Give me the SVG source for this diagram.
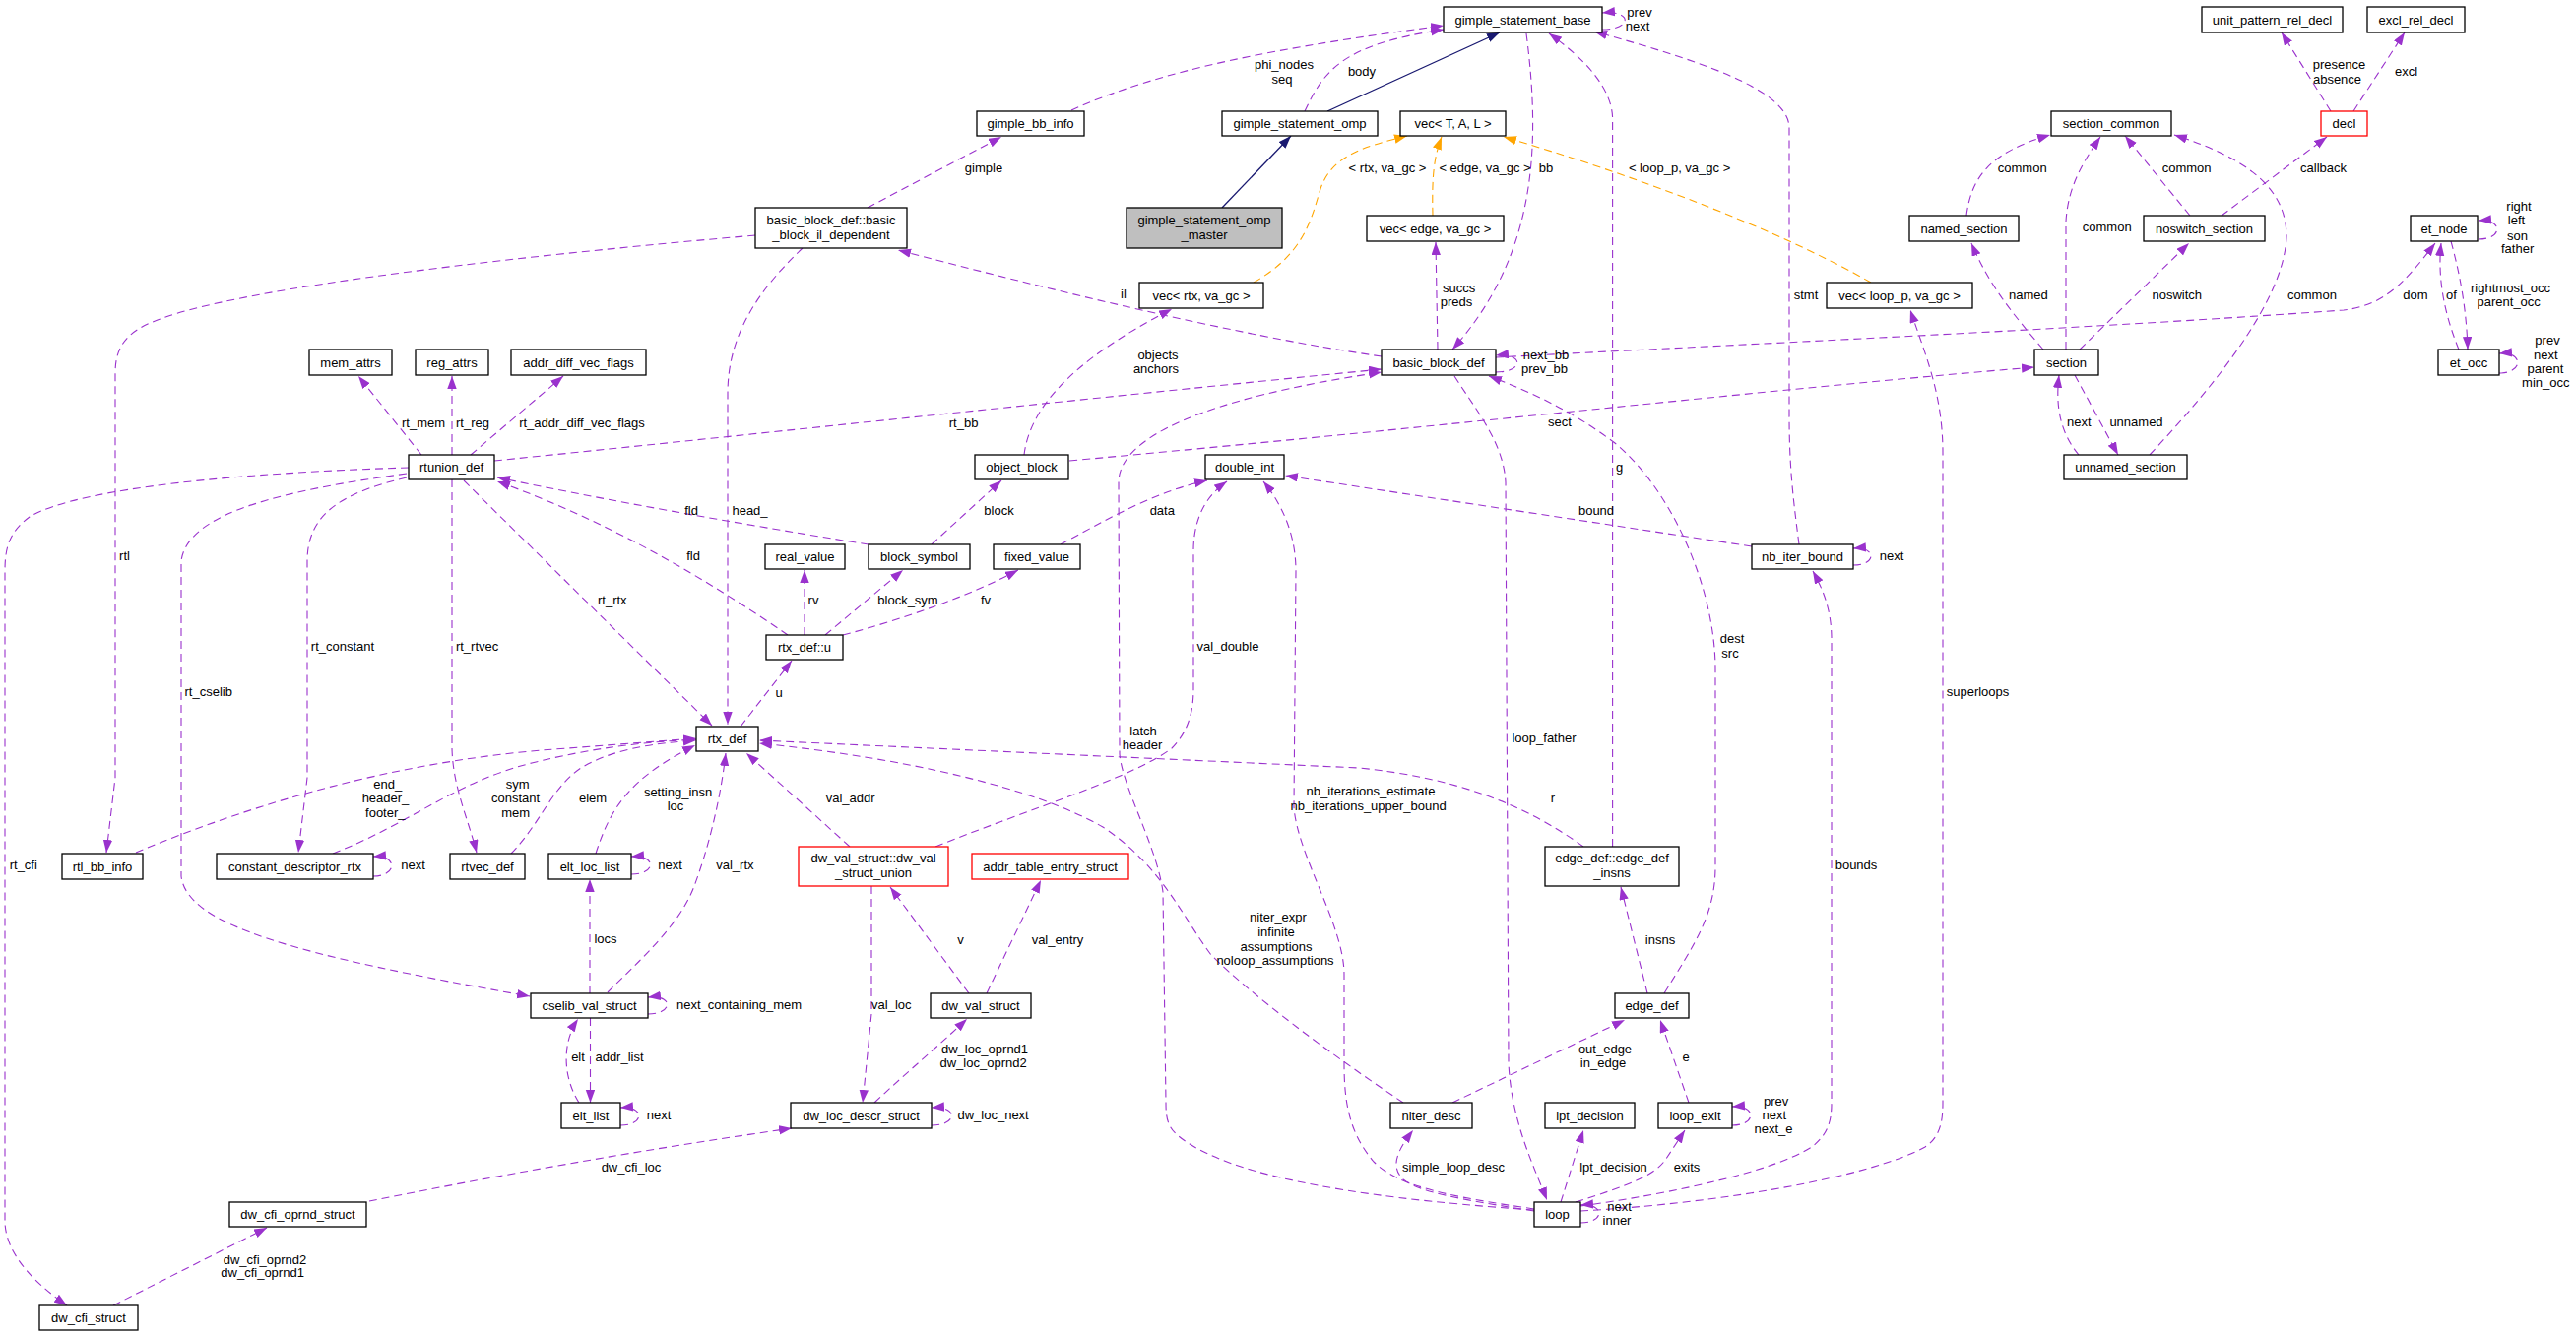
<svg xmlns="http://www.w3.org/2000/svg" width="2616" height="1357" viewBox="0 0 2616 1357">
<style>
text{font-family:"Liberation Sans",Arial,sans-serif;font-size:13px;fill:#000;text-anchor:middle}
.n rect{fill:#fff;stroke:#000;stroke-width:1.3}
.n.red rect{stroke:#ff0000}
.n.main rect{fill:#bfbfbf}
.e{fill:none;stroke:#9a32cd;stroke-width:1.1;stroke-dasharray:8,5}
.o{fill:none;stroke:#ffa500;stroke-width:1.1;stroke-dasharray:8,5}
.i{fill:none;stroke:#191970;stroke-width:1.3}
.e{marker-end:url(#mp)}
.o{marker-end:url(#mo)}
.i{marker-end:url(#mi)}
</style>
<defs>
<marker id="mp" markerUnits="userSpaceOnUse" markerWidth="14" markerHeight="10" refX="13" refY="4.7" orient="auto"><path d="M0,0 L13,4.7 L0,9.4 Z" fill="#9a32cd" stroke="none"/></marker>
<marker id="mo" markerUnits="userSpaceOnUse" markerWidth="14" markerHeight="10" refX="13" refY="4.7" orient="auto"><path d="M0,0 L13,4.7 L0,9.4 Z" fill="#ffa500" stroke="none"/></marker>
<marker id="mi" markerUnits="userSpaceOnUse" markerWidth="14" markerHeight="10" refX="13" refY="4.7" orient="auto"><path d="M0,0 L13,4.7 L0,9.4 Z" fill="#191970" stroke="none"/></marker>
</defs>
<rect x="0" y="0" width="2616" height="1357" fill="#fff"/>
<g id="connectors">
<path class="i" d="M1241,211 L1311,138"/>
<path class="i" d="M1348,113 L1523,33"/>
<path class="e" d="M1325,113 C1345,70 1365,45 1466,30"/>
<path class="e" d="M1088,112 C1180,70 1300,48 1466,26"/>
<path class="e" d="M1627,30 C1658,30 1658,10 1627,13"/>
<path class="e" d="M1550,34 C1565,150 1560,260 1475,355"/>
<path class="e" d="M1637.6,860 L1637.6,120 C1637,90 1610,60 1573,34"/>
<path class="e" d="M1827,553 C1820,500 1817,470 1817,420 L1817,130 C1817,90 1720,60 1619,32"/>
<path class="o" d="M1273,287 C1320,260 1330,230 1340,195 C1350,160 1380,150 1429,138"/>
<path class="o" d="M1455,219 C1454,180 1456,160 1464,139"/>
<path class="o" d="M1900,287 C1800,230 1650,175 1527,139"/>
<path class="e" d="M1460,355 L1458,246"/>
<path class="e" d="M1519,378 C1548,378 1548,358 1519,361"/>
<path class="e" d="M1403,362 C1250,340 1050,290 912,254"/>
<path class="e" d="M502,468 C700,448 1100,405 1403,375"/>
<path class="e" d="M1558,1229 C1350,1215 1250,1190 1205,1160 C1187,1148 1184,1140 1184,1120 L1181,906 C1175,860 1140,800 1137,766 L1136,490 C1136,445 1220,405 1403,378"/>
<path class="e" d="M1477,382 C1500,418 1527,450 1529,490 L1532,1080 C1535,1140 1558,1185 1571,1219"/>
<path class="e" d="M1040,462 C1045,420 1080,370 1190,314"/>
<path class="e" d="M1086,468 C1500,430 1800,395 2066,373"/>
<path class="e" d="M946,553 L1017,488"/>
<path class="e" d="M882,553 C800,540 650,515 505,485"/>
<path class="e" d="M800,645 C720,590 620,530 505,489"/>
<path class="e" d="M428,462 L364,382"/>
<path class="e" d="M459,462 L459,382"/>
<path class="e" d="M478,462 L572,382"/>
<path class="e" d="M415,475 C250,480 80,495 30,525 C10,540 5,555 5,580 L5,1240 C5,1270 30,1300 68,1326"/>
<path class="e" d="M413,481 C290,498 190,520 184,570 L184,890 C190,940 300,970 538,1012"/>
<path class="e" d="M413,485 C350,500 312,520 312,570 L312,790 L303,866"/>
<path class="e" d="M459,487 L459,760 C460,800 475,830 484,866"/>
<path class="e" d="M471,488 L723,737"/>
<path class="e" d="M752,738 L804,671"/>
<path class="e" d="M817,645 L817,579"/>
<path class="e" d="M838,645 L917,579"/>
<path class="e" d="M856,645 C920,628 985,605 1034,579"/>
<path class="e" d="M1077,553 C1120,530 1170,500 1226,488"/>
<path class="e" d="M1779,555 L1305,483"/>
<path class="e" d="M1558,1228 C1470,1215 1420,1205 1395,1180 C1370,1150 1365,1120 1365,1080 L1365,990 C1365,940 1318,870 1314,820 L1316,580 C1316,540 1300,510 1283,489"/>
<path class="e" d="M950,860 C1050,820 1150,790 1190,760 C1208,742 1212,720 1212,700 L1212,560 C1212,520 1230,500 1246,489"/>
<path class="e" d="M863,860 L758,765"/>
<path class="e" d="M885,900 L885,1030 L876,1120"/>
<path class="e" d="M984,1009 L904,901"/>
<path class="e" d="M1002,1009 L1057,894"/>
<path class="e" d="M888,1120 C920,1090 950,1065 982,1035"/>
<path class="e" d="M946,1143 C973,1143 973,1123 946,1125"/>
<path class="e" d="M375,1220 C500,1195 650,1168 804,1146"/>
<path class="e" d="M115,1326 L271,1247"/>
<path class="e" d="M599,1009 L599,893"/>
<path class="e" d="M599.5,1034 L599.5,1120"/>
<path class="e" d="M588,1120 C572,1095 570,1060 587,1035"/>
<path class="e" d="M630,1143 C655,1143 655,1123 630,1125"/>
<path class="e" d="M658,1030 C684,1030 684,1010 658,1013"/>
<path class="e" d="M617,1008 C650,975 690,940 705,900 C720,860 732,810 737,765"/>
<path class="e" d="M605,867 C620,820 640,790 706,757"/>
<path class="e" d="M641,888 C667,888 667,868 641,870"/>
<path class="e" d="M519,867 C550,835 560,800 590,780 C620,762 660,755 707,752"/>
<path class="e" d="M338,867 C420,835 460,795 540,775 C600,760 650,754 707,751"/>
<path class="e" d="M138,866 C260,815 400,775 550,762 L707,750"/>
<path class="e" d="M379,890 C404,890 404,868 379,870"/>
<path class="e" d="M1608,860 C1550,818 1480,790 1380,780 L771,752"/>
<path class="e" d="M1425,1120 C1350,1070 1270,1010 1230,970 C1200,930 1180,880 1120,840 C1050,800 920,770 771,755"/>
<path class="e" d="M1673,1009 L1646,901"/>
<path class="e" d="M1690,1009 C1720,960 1742,930 1742,880 L1742,680 C1742,600 1700,500 1640,450 C1600,420 1560,400 1512,382"/>
<path class="e" d="M1475,1120 L1650,1036"/>
<path class="e" d="M1715,1120 L1686,1036"/>
<path class="e" d="M1759,1143 C1784,1143 1784,1122 1759,1124"/>
<path class="e" d="M1600,1221 C1650,1205 1680,1195 1692,1177 L1711,1148"/>
<path class="e" d="M1585,1221 L1608,1148"/>
<path class="e" d="M1558,1230 C1480,1218 1440,1210 1425,1198 C1412,1185 1418,1170 1435,1148"/>
<path class="e" d="M1605,1242 C1630,1242 1630,1222 1605,1224"/>
<path class="e" d="M1605,1225 C1700,1212 1800,1190 1840,1165 C1856,1152 1860,1140 1860,1120 L1860,650 C1860,620 1852,600 1841,580"/>
<path class="e" d="M1605,1230 C1750,1222 1900,1195 1955,1165 C1970,1155 1973,1140 1973,1120 L1973,460 C1973,400 1955,360 1940,315"/>
<path class="e" d="M1882,574 C1906,574 1906,555 1882,557"/>
<path class="e" d="M2517,243 C2542,243 2542,222 2517,224"/>
<path class="e" d="M2538,379 C2563,379 2563,357 2538,359"/>
<path class="e" d="M1519,363 C1800,348 2100,335 2380,315 C2420,310 2440,290 2473,247"/>
<path class="e" d="M2489,245 C2500,285 2505,320 2506,355"/>
<path class="e" d="M2497,355 C2483,320 2475,285 2479,247"/>
<path class="e" d="M2075,355 C2045,320 2020,290 2002,247"/>
<path class="e" d="M2098,355 L2098,225 C2100,190 2115,165 2133,139"/>
<path class="e" d="M2112,355 L2223,247"/>
<path class="e" d="M2107,381 L2151,462"/>
<path class="e" d="M2111,462 C2093,440 2087,415 2091,381"/>
<path class="e" d="M2183,462 C2260,380 2320,300 2322,240 C2322,190 2280,160 2208,137"/>
<path class="e" d="M1997,219 C2002,180 2020,155 2082,137"/>
<path class="e" d="M2224,219 C2200,190 2180,165 2158,138"/>
<path class="e" d="M2256,219 L2363,139"/>
<path class="e" d="M2367,113 L2317,33"/>
<path class="e" d="M2390,113 L2442,33"/>
<path class="e" d="M767,239 C550,258 250,290 160,325 C125,338 117,355 117,380 L117,790 L108,866"/>
<path class="e" d="M815,252 C770,295 739,340 739,400 L739,736"/>
<path class="e" d="M881,211 L1017,139"/>
<g id="edge-labels">
<text x="1304" y="69.5">phi_nodes</text><text x="1302" y="84.5">seq</text>
<text x="1383" y="77">body</text>
<text x="1665" y="16.5">prev</text><text x="1663" y="31">next</text>
<text x="999" y="174.5">gimple</text>
<text x="1409" y="174.5">&lt; rtx, va_gc &gt;</text>
<text x="1508" y="174.5">&lt; edge, va_gc &gt;</text>
<text x="1570" y="174.5">bb</text>
<text x="1705.6" y="174.5">&lt; loop_p, va_gc &gt;</text>
<text x="2375.5" y="69.5">presence</text><text x="2373.5" y="84.5">absence</text>
<text x="2443.5" y="77">excl</text>
<text x="2053.7" y="174.5">common</text>
<text x="2220.6" y="174.5">common</text>
<text x="2359.6" y="174.5">callback</text>
<text x="2139.7" y="235">common</text>
<text x="2558" y="213.5">right</text><text x="2555.5" y="228">left</text><text x="2556.6" y="243.5">son</text><text x="2556.6" y="257">father</text>
<text x="1141" y="303">il</text>
<text x="1481.6" y="296.5">succs</text><text x="1479" y="311">preds</text>
<text x="1834" y="303.5">stmt</text>
<text x="2059.8" y="303.5">named</text>
<text x="2210.8" y="303.5">noswitch</text>
<text x="2348" y="303.5">common</text>
<text x="2453" y="303.5">dom</text>
<text x="2489.4" y="303.5">of</text>
<text x="2549.5" y="296.5">rightmost_occ</text><text x="2547.7" y="311">parent_occ</text>
<text x="1176" y="364.5">objects</text><text x="1174" y="379">anchors</text>
<text x="1570" y="364.5">next_bb</text><text x="1568.5" y="379">prev_bb</text>
<text x="2587" y="350">prev</text><text x="2585.3" y="364.5">next</text><text x="2585" y="379">parent</text><text x="2585.3" y="393">min_occ</text>
<text x="430" y="433.5">rt_mem</text>
<text x="480" y="433.5">rt_reg</text>
<text x="591" y="433.5">rt_addr_diff_vec_flags</text>
<text x="978.6" y="433.5">rt_bb</text>
<text x="1584" y="433">sect</text>
<text x="2111.4" y="433">next</text>
<text x="2169.5" y="433">unnamed</text>
<text x="1644.5" y="479">g</text>
<text x="702" y="523">fld</text>
<text x="761.5" y="523">head_</text>
<text x="1014.5" y="523">block</text>
<text x="1180.3" y="523">data</text>
<text x="1621" y="523">bound</text>
<text x="704" y="569">fld</text>
<text x="126.5" y="569">rtl</text>
<text x="1921" y="569">next</text>
<text x="826" y="614">rv</text>
<text x="922" y="614">block_sym</text>
<text x="1001" y="614">fv</text>
<text x="621.8" y="614">rt_rtx</text>
<text x="1759" y="653">dest</text><text x="1757" y="668">src</text>
<text x="348" y="661">rt_constant</text>
<text x="484.6" y="661">rt_rtvec</text>
<text x="1247" y="661">val_double</text>
<text x="211.7" y="707">rt_cselib</text>
<text x="791" y="707.5">u</text>
<text x="2008.5" y="707">superloops</text>
<text x="1161" y="747">latch</text><text x="1160" y="761">header</text>
<text x="1568" y="754">loop_father</text>
<text x="393.8" y="801">end_</text><text x="391.5" y="815">header_</text><text x="391.3" y="830">footer_</text>
<text x="525.7" y="801">sym</text><text x="523.6" y="815">constant</text><text x="523.6" y="830">mem</text>
<text x="602" y="815">elem</text>
<text x="688.6" y="808.5">setting_insn</text><text x="686" y="823">loc</text>
<text x="863.6" y="815">val_addr</text>
<text x="1392" y="808">nb_iterations_estimate</text><text x="1389.6" y="823">nb_iterations_upper_bound</text>
<text x="1577" y="815">r</text>
<text x="23.8" y="883">rt_cfi</text>
<text x="419.6" y="883">next</text>
<text x="680.5" y="883">next</text>
<text x="746.4" y="883">val_rtx</text>
<text x="1885" y="883">bounds</text>
<text x="1298" y="936">niter_expr</text><text x="1296" y="951">infinite</text><text x="1296" y="965.5">assumptions</text><text x="1295" y="980">noloop_assumptions</text>
<text x="615" y="958">locs</text>
<text x="975.4" y="958.5">v</text>
<text x="1074" y="958.5">val_entry</text>
<text x="1686" y="958.5">insns</text>
<text x="750.6" y="1025">next_containing_mem</text>
<text x="905.3" y="1025">val_loc</text>
<text x="1000" y="1069.5">dw_loc_oprnd1</text><text x="998.6" y="1084">dw_loc_oprnd2</text>
<text x="1630" y="1069.5">out_edge</text><text x="1628" y="1084">in_edge</text>
<text x="587" y="1077.5">elt</text>
<text x="629" y="1077.5">addr_list</text>
<text x="1712" y="1077.5">e</text>
<text x="1803.6" y="1122.5">prev</text><text x="1801.8" y="1137">next</text><text x="1801" y="1151">next_e</text>
<text x="669" y="1137">next</text>
<text x="1008.6" y="1137">dw_loc_next</text>
<text x="641" y="1190">dw_cfi_loc</text>
<text x="1476" y="1190">simple_loop_desc</text>
<text x="1638.5" y="1190">lpt_decision</text>
<text x="1713" y="1190">exits</text>
<text x="1644.5" y="1229.5">next</text><text x="1642" y="1244">inner</text>
<text x="269" y="1283.5">dw_cfi_oprnd2</text><text x="266.6" y="1297">dw_cfi_oprnd1</text>
</g>
</g>
<g id="gimple_statement_base" class="n"><rect x="1466" y="7" width="161" height="26"/><text x="1546.5" y="24.5">gimple_statement_base</text></g>
<g id="gimple_bb_info" class="n"><rect x="992" y="113" width="109" height="25"/><text x="1046.5" y="130">gimple_bb_info</text></g>
<g id="gimple_statement_omp" class="n"><rect x="1241" y="113" width="158" height="25"/><text x="1320" y="130">gimple_statement_omp</text></g>
<g id="vec_T_A_L" class="n"><rect x="1422" y="113" width="107" height="25"/><text x="1475.5" y="130">vec&lt; T, A, L &gt;</text></g>
<g id="unit_pattern_rel_decl" class="n"><rect x="2236" y="7" width="143" height="26"/><text x="2307.5" y="24.5">unit_pattern_rel_decl</text></g>
<g id="excl_rel_decl" class="n"><rect x="2404" y="7" width="99" height="26"/><text x="2453.5" y="24.5">excl_rel_decl</text></g>
<g id="section_common" class="n"><rect x="2083" y="113" width="122" height="25"/><text x="2144" y="130">section_common</text></g>
<g id="decl" class="n red"><rect x="2357" y="113" width="47" height="25"/><text x="2380.5" y="130">decl</text></g>
<g id="basic_block_il_dependent" class="n"><rect x="767" y="211" width="154" height="41"/><text x="844" y="227.8">basic_block_def::basic</text><text x="844" y="243.2">_block_il_dependent</text></g>
<g id="gimple_statement_omp_master" class="n main"><rect x="1144" y="211" width="158" height="41"/><text x="1223" y="227.8">gimple_statement_omp</text><text x="1223" y="243.2">_master</text></g>
<g id="vec_rtx" class="n"><rect x="1157" y="287" width="126" height="26"/><text x="1220" y="304.5">vec&lt; rtx, va_gc &gt;</text></g>
<g id="vec_edge" class="n"><rect x="1388" y="219" width="139" height="26"/><text x="1457.5" y="236.5">vec&lt; edge, va_gc &gt;</text></g>
<g id="named_section" class="n"><rect x="1939" y="219" width="111" height="26"/><text x="1994.5" y="236.5">named_section</text></g>
<g id="noswitch_section" class="n"><rect x="2177" y="219" width="123" height="26"/><text x="2238.5" y="236.5">noswitch_section</text></g>
<g id="et_node" class="n"><rect x="2448" y="219" width="68" height="26"/><text x="2482" y="236.5">et_node</text></g>
<g id="vec_loop_p" class="n"><rect x="1855" y="287" width="148" height="26"/><text x="1929" y="304.5">vec&lt; loop_p, va_gc &gt;</text></g>
<g id="mem_attrs" class="n"><rect x="314" y="355" width="84" height="26"/><text x="356" y="372.5">mem_attrs</text></g>
<g id="reg_attrs" class="n"><rect x="422" y="355" width="74" height="26"/><text x="459" y="372.5">reg_attrs</text></g>
<g id="addr_diff_vec_flags" class="n"><rect x="519" y="355" width="137" height="26"/><text x="587.5" y="372.5">addr_diff_vec_flags</text></g>
<g id="basic_block_def" class="n"><rect x="1403" y="355" width="116" height="26"/><text x="1461" y="372.5">basic_block_def</text></g>
<g id="section" class="n"><rect x="2066" y="355" width="65" height="26"/><text x="2098.5" y="372.5">section</text></g>
<g id="et_occ" class="n"><rect x="2476" y="355" width="62" height="26"/><text x="2507" y="372.5">et_occ</text></g>
<g id="rtunion_def" class="n"><rect x="415" y="462" width="87" height="25"/><text x="458.5" y="479">rtunion_def</text></g>
<g id="object_block" class="n"><rect x="990" y="462" width="95" height="25"/><text x="1037.5" y="479">object_block</text></g>
<g id="double_int" class="n"><rect x="1224" y="462" width="80" height="25"/><text x="1264" y="479">double_int</text></g>
<g id="unnamed_section" class="n"><rect x="2096" y="462" width="125" height="25"/><text x="2158.5" y="479">unnamed_section</text></g>
<g id="real_value" class="n"><rect x="777" y="553" width="81" height="25"/><text x="817.5" y="570">real_value</text></g>
<g id="block_symbol" class="n"><rect x="882" y="553" width="103" height="25"/><text x="933.5" y="570">block_symbol</text></g>
<g id="fixed_value" class="n"><rect x="1009" y="553" width="88" height="25"/><text x="1053" y="570">fixed_value</text></g>
<g id="nb_iter_bound" class="n"><rect x="1779" y="553" width="103" height="25"/><text x="1830.5" y="570">nb_iter_bound</text></g>
<g id="rtx_def_u" class="n"><rect x="778" y="645" width="78" height="25"/><text x="817" y="662">rtx_def::u</text></g>
<g id="rtx_def" class="n"><rect x="707" y="738" width="63" height="25"/><text x="738.5" y="755">rtx_def</text></g>
<g id="rtl_bb_info" class="n"><rect x="63" y="867" width="82" height="26"/><text x="104" y="884.5">rtl_bb_info</text></g>
<g id="constant_descriptor_rtx" class="n"><rect x="220" y="867" width="159" height="26"/><text x="299.5" y="884.5">constant_descriptor_rtx</text></g>
<g id="rtvec_def" class="n"><rect x="457" y="867" width="76" height="26"/><text x="495" y="884.5">rtvec_def</text></g>
<g id="elt_loc_list" class="n"><rect x="557" y="867" width="84" height="26"/><text x="599" y="884.5">elt_loc_list</text></g>
<g id="dw_val_struct_union" class="n red"><rect x="811" y="860" width="152" height="40"/><text x="887" y="875.8">dw_val_struct::dw_val</text><text x="887" y="890.8">_struct_union</text></g>
<g id="addr_table_entry_struct" class="n red"><rect x="987" y="867" width="159" height="26"/><text x="1066.5" y="884.5">addr_table_entry_struct</text></g>
<g id="edge_def_insns" class="n"><rect x="1569" y="860" width="136" height="40"/><text x="1637" y="875.8">edge_def::edge_def</text><text x="1637" y="890.8">_insns</text></g>
<g id="cselib_val_struct" class="n"><rect x="539" y="1009" width="119" height="25"/><text x="598.5" y="1026">cselib_val_struct</text></g>
<g id="dw_val_struct" class="n"><rect x="945" y="1009" width="102" height="25"/><text x="996" y="1026">dw_val_struct</text></g>
<g id="edge_def" class="n"><rect x="1640" y="1009" width="75" height="25"/><text x="1677.5" y="1026">edge_def</text></g>
<g id="elt_list" class="n"><rect x="570" y="1120" width="60" height="26"/><text x="600" y="1137.5">elt_list</text></g>
<g id="dw_loc_descr_struct" class="n"><rect x="803" y="1120" width="143" height="26"/><text x="874.5" y="1137.5">dw_loc_descr_struct</text></g>
<g id="niter_desc" class="n"><rect x="1412" y="1120" width="83" height="26"/><text x="1453.5" y="1137.5">niter_desc</text></g>
<g id="lpt_decision" class="n"><rect x="1569" y="1120" width="91" height="26"/><text x="1614.5" y="1137.5">lpt_decision</text></g>
<g id="loop_exit" class="n"><rect x="1684" y="1120" width="75" height="26"/><text x="1721.5" y="1137.5">loop_exit</text></g>
<g id="dw_cfi_oprnd_struct" class="n"><rect x="233" y="1221" width="139" height="25"/><text x="302.5" y="1238">dw_cfi_oprnd_struct</text></g>
<g id="loop" class="n"><rect x="1558" y="1221" width="47" height="25"/><text x="1581.5" y="1238">loop</text></g>
<g id="dw_cfi_struct" class="n"><rect x="40" y="1326" width="100" height="25"/><text x="90" y="1343">dw_cfi_struct</text></g>
</svg>
